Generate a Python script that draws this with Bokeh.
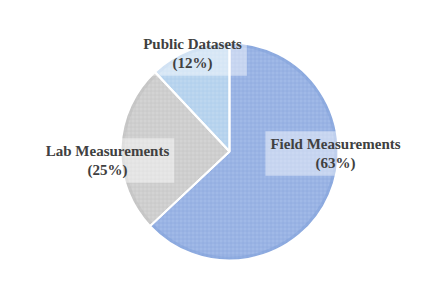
import numpy as np
from bokeh.plotting import figure
from bokeh.models import ColumnDataSource, Range1d
from bokeh.core.properties import value
from bokeh.embed import file_html
from bokeh.resources import INLINE

categories = ["Field Measurements", "Lab Measurements", "Public Datasets"]
shares = [63, 25, 12]
colors = ["#a0b9e7", "#d3d3d3", "#bdd7ef"]
hatch_colors = ["#8ba7dd", "#c3c3c3", "#aac9eb"]
rim_colors = ["#7f9fd9", "#bdbdbd", "#9fc0e6"]

W, H = 407, 269
cx, cy, r = 229, 118, 109

vals = np.array(shares, dtype=float)
frac = vals / vals.sum()
cum = np.concatenate([[0], np.cumsum(frac)])
start = np.pi / 2 - 2 * np.pi * cum[:-1]
end = np.pi / 2 - 2 * np.pi * cum[1:]

src = ColumnDataSource(dict(start=start, end=end, color=colors, hcolor=hatch_colors, rim=rim_colors))

p = figure(width=W, height=H, output_backend="svg", toolbar_location=None,
           x_range=Range1d(0, W), y_range=Range1d(0, H), min_border=0)
p.axis.visible = False
p.grid.visible = False
p.outline_line_color = None

p.wedge(x=cx, y=cy, radius=r, start_angle="start", end_angle="end", direction="clock",
        fill_color="color", line_color=None, source=src,
        hatch_pattern="cross", hatch_color="hcolor", hatch_alpha=0.6,
        hatch_scale=4, hatch_weight=1)
# soft darker rim along the outer edge
p.annular_wedge(x=cx, y=cy, inner_radius=r - 4, outer_radius=r, start_angle="start", end_angle="end",
                direction="clock", fill_color="rim", fill_alpha=0.45, line_color=None, source=src)
# white separators
p.wedge(x=cx, y=cy, radius=r, start_angle="start", end_angle="end", direction="clock",
        fill_color=None, line_color="white", line_width=2, source=src)

# label layout (offsets from pie centre, in pixels)
label_pos = [(106, -2), (-122, -9), (-37, 98)]
lx = [cx + dx for dx, dy in label_pos]
ly = [cy + dy for dx, dy in label_pos]
texts = [f"{c}\n({s}%)" for c, s in zip(categories, shares)]
lsrc = ColumnDataSource(dict(x=lx, y=ly, t=texts))
p.text(x="x", y="y", text="t", source=lsrc, text_align="center", text_baseline="middle",
       text_font=value("Liberation Serif"), text_font_style="bold", text_font_size="15px",
       text_color="#404040", text_line_height=1.15,
       background_fill_color="white", background_fill_alpha=0.45, padding=5)

open("out.html", "w").write(file_html(p, INLINE))
